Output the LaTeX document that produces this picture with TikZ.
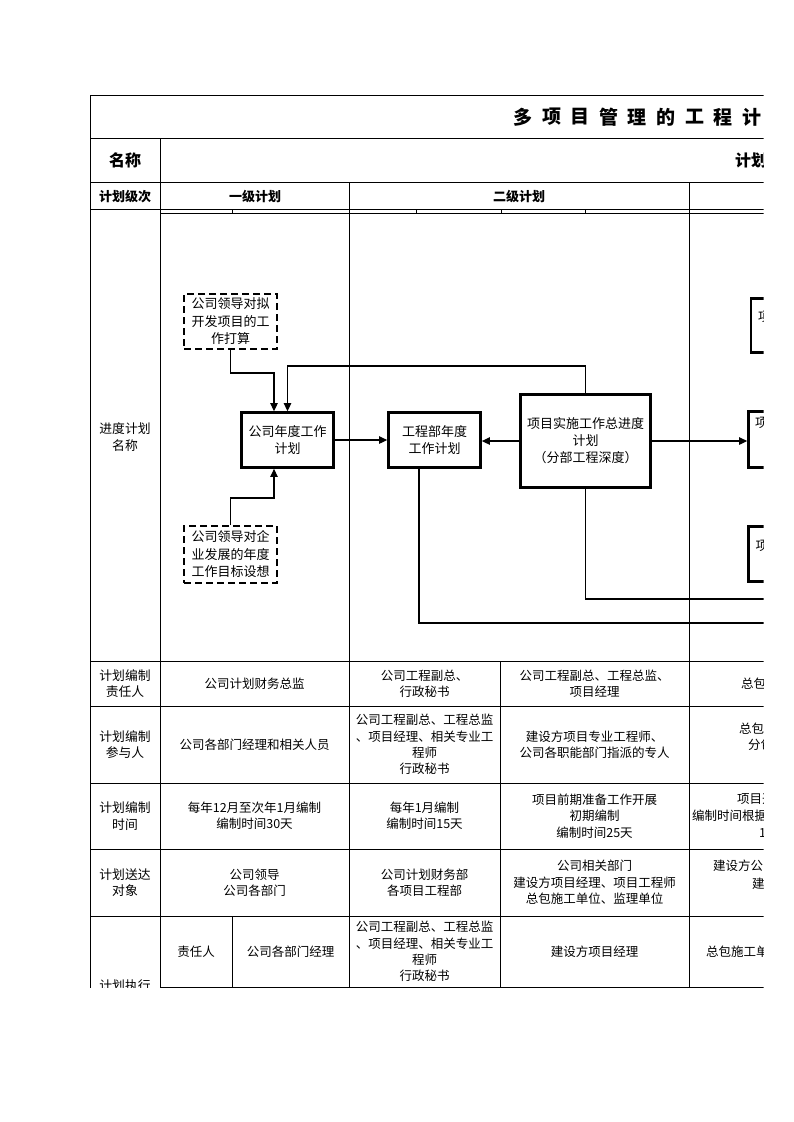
\documentclass[tikz,border=0pt]{standalone}
\usepackage{fontspec}
\setmainfont{Noto Sans CJK SC}
\usetikzlibrary{arrows.meta}
\begin{document}
\begin{tikzpicture}[x=1pt,y=-1pt,
  tl/.style={line width=0.9pt},
  txt/.style={font=\fontsize{12.5}{16.3}\selectfont, align=center, inner sep=0pt},
  lbl/.style={txt, font=\fontsize{12.8}{16.5}\selectfont},
  hdr/.style={font=\bfseries\fontsize{13}{16}\selectfont, inner sep=0pt},
  hdrbig/.style={font=\bfseries\fontsize{16}{18}\selectfont, inner sep=0pt},
  ttl/.style={font=\bfseries\fontsize{19}{20}\selectfont, inner sep=0pt},
  fbox/.style={draw, line width=2.8pt, align=center, inner sep=2pt,
    font=\fontsize{13}{17}\selectfont},
  dbox/.style={draw, line width=1.8pt, dash pattern=on 7pt off 4pt, align=center,
    inner sep=2pt, font=\fontsize{13}{17.5}\selectfont},
  conn/.style={line width=1.3pt},
  arr/.style={conn, -{Triangle[length=8pt,width=7.5pt]}}
]
\useasboundingbox (0,0) rectangle (793,1122);
\fill[white] (0,0) rectangle (793,1122);
\begin{scope}
\clip (0,0) rectangle (763.5,987.6);
% ---------- table grid ----------
\foreach \yy in {95,138,182,209.5,661,706,783,849,916}
  \draw[tl] (90,\yy) -- (780,\yy);
\draw[tl] (160,213) -- (780,213);
\draw[tl] (160,987) -- (780,987);
\foreach \xx in {232,416,501,585}
  \draw[tl] (\xx,209.5) -- (\xx,213);
\draw[tl] (90,95) -- (90,1000);
\draw[tl] (160,138) -- (160,1000);
\draw[tl] (349,182) -- (349,1000);
\draw[tl] (689,182) -- (689,1000);
\draw[tl] (500,661) -- (500,1000);
\draw[tl] (232,916) -- (232,1000);
% ---------- title ----------
\foreach \ch [count=\i from 0] in {多,项,目,管,理,的,工,程,计,划}
  \node[ttl] (t\i) at (523+28.6*\i,117) {\ch};
% ---------- header rows ----------
\node[hdrbig] (h1) at (125,160) {名称};
\node[hdrbig, anchor=west] (h2) at (735,160) {计划管理};
\node[hdr] (h3) at (125,197) {计划级次};
\node[hdr] (h4) at (255,197) {一级计划};
\node[hdr] (h5) at (519,197) {二级计划};
% ---------- left labels ----------
\node[lbl] (l1) at (125,437) {进度计划\\名称};
\node[lbl] (l2) at (125,683.5) {计划编制\\责任人};
\node[lbl] (l3) at (125,744.5) {计划编制\\参与人};
\node[lbl] (l4) at (125,816) {计划编制\\时间};
\node[lbl] (l5) at (125,882.5) {计划送达\\对象};
\node[lbl, anchor=north] (l6) at (125,980) {计划执行};
% ---------- flowchart ----------
\node[dbox, minimum width=93pt, minimum height=55pt] (d1) at (230.5,321.5)
  {公司领导对拟\\开发项目的工\\作打算};
\node[dbox, minimum width=93pt, minimum height=57pt] (d2) at (230.5,554.5)
  {公司领导对企\\业发展的年度\\工作目标设想};
\node[fbox, minimum width=92pt, minimum height=55pt] (a) at (287.5,440)
  {公司年度工作\\计划};
\node[fbox, minimum width=92pt, minimum height=55pt] (b) at (434.5,440)
  {工程部年度\\工作计划};
\node[fbox, minimum width=130pt, minimum height=93pt] (c) at (585.5,441)
  {项目实施工作总进度\\计划\\（分部工程深度）};
\node[fbox, minimum width=92pt, minimum height=54pt] (e1) at (797,325.5)
  {项目前期工作\\计划};
\node[fbox, minimum width=130pt, minimum height=56pt] (e2) at (813.5,439.5)
  {项目实施工作总进度\\计划\\（分项工程深度）};
\node[fbox, minimum width=92pt, minimum height=55pt] (e3) at (794.5,554)
  {项目月度施工\\计划};
\draw[arr] (d1.south) -- ++(0,23) -| ([xshift=-13.5pt]a.north);
\draw[arr] (c.north) -- ++(0,-27) -| (a.north);
\draw[arr] (d2.north) -- ++(0,-27) -| ([xshift=-13.5pt]a.south);
\draw[arr] (a.east) -- (b.west);
\draw[arr] (c.west) -- (c.west -| b.east);
\draw[arr] (c.east) -- (c.east -| e2.west);
\coordinate (o1) at (790,599);
\coordinate (o2) at (790,623);
\draw[conn] (c.south) |- (o1);
\draw[conn] ([xshift=-15.5pt]b.south) |- (o2);
% ---------- row 1 ----------
\node[txt] (r11) at (254.5,683.5) {公司计划财务总监};
\node[txt] (r12) at (424.5,683.5) {公司工程副总、\\行政秘书};
\node[txt] (r13) at (594.5,683.5) {公司工程副总、工程总监、\\项目经理};
\node[txt, anchor=west] (r14) at (741,684) {总包单位项目经理};
% ---------- row 2 ----------
\node[txt] (r21) at (254.5,744.5) {公司各部门经理和相关人员};
\node[txt] (r22) at (424.5,744.5) {公司工程副总、工程总监\\、项目经理、相关专业工\\程师\\行政秘书};
\node[txt] (r23) at (594.5,744.5) {建设方项目专业工程师、\\公司各职能部门指派的专人};
\node[txt, anchor=west] (r24) at (739,729) {总包单位项目经理};
\node[txt, anchor=west] (r25) at (748,745) {分包单位};
% ---------- row 3 ----------
\node[txt] (r31) at (254.5,816) {每年12月至次年1月编制\\编制时间30天};
\node[txt] (r32) at (424.5,816) {每年1月编制\\编制时间15天};
\node[txt] (r33) at (594.5,816) {项目前期准备工作开展\\初期编制\\编制时间25天};
\node[txt, anchor=west] (r34) at (737,799) {项目开工前编制};
\node[txt, anchor=west] (r35) at (692,816) {编制时间根据项目规模};
\node[txt, anchor=west] (r36) at (759,833) {1};
% ---------- row 4 ----------
\node[txt] (r41) at (254.5,882.5) {公司领导\\公司各部门};
\node[txt] (r42) at (424.5,882.5) {公司计划财务部\\各项目工程部};
\node[txt] (r43) at (594.5,882.5) {公司相关部门\\建设方项目经理、项目工程师\\总包施工单位、监理单位};
\node[txt, anchor=west] (r44) at (713,866) {建设方公司各部门};
\node[txt, anchor=west] (r45) at (752,884) {建设};
% ---------- row 5 ----------
\node[txt] (r51) at (196,951.5) {责任人};
\node[txt] (r52) at (290.5,951.5) {公司各部门经理};
\node[txt] (r53) at (424.5,951.5) {公司工程副总、工程总监\\、项目经理、相关专业工\\程师\\行政秘书};
\node[txt] (r54) at (594.5,951.5) {建设方项目经理};
\node[txt, anchor=west] (r55) at (706,951.5) {总包施工单位};
\end{scope}
\end{tikzpicture}
\end{document}
